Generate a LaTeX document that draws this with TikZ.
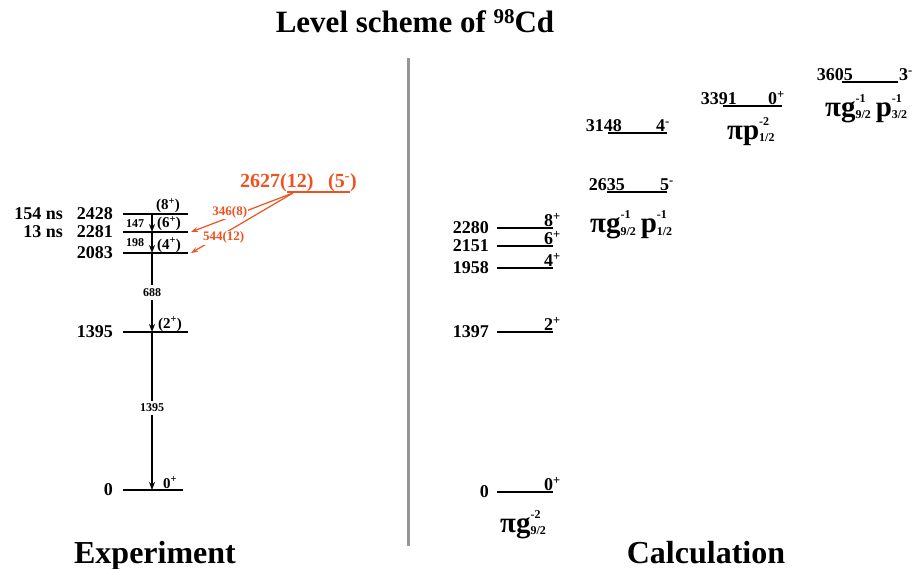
\documentclass[tikz,border=0pt]{standalone}
\usepackage{fontspec}
\setmainfont{Liberation Serif}
\usetikzlibrary{arrows.meta}
\definecolor{decayorange}{RGB}{238,82,32}
\definecolor{divgray}{RGB}{150,150,150}
\newcommand{\fs}[1]{\fontsize{#1}{#1}\selectfont\bfseries}
\newcommand{\orb}[3]{#1{\fs{12}\rlap{\raisebox{14pt}{#3}}\raisebox{-2pt}{#2}}}
\begin{document}
\begin{tikzpicture}[x=1pt, y=-1pt, >={Stealth[length=8pt, width=6pt]},
  lvl/.style={line width=1.4pt},
  gam/.style={->, line width=1.5pt},
  en/.style={font=\fs{18}, inner sep=1pt},
  uen/.style={font=\fs{18}, inner sep=0pt},
  espin/.style={font=\fs{15}, inner sep=0pt},
  cspin/.style={font=\fs{18}, inner sep=0pt},
  glab/.style={font=\fs{12}, inner sep=0pt},
  olab/.style={font=\fs{13}, text=decayorange, fill=white, inner sep=1pt},
  cfg/.style={font=\fs{29}, inner sep=0pt}]
  \useasboundingbox (0,0) rectangle (917,569);
  % titles
  \node[font=\fs{31}, anchor=base] (title) at (415,33) {Level scheme of \raisebox{9pt}{\fs{21}98}Cd};
  \node[font=\fs{32}, anchor=base] (exptitle) at (155,563) {Experiment};
  \node[font=\fs{32}, anchor=base] (caltitle) at (706,563) {Calculation};
  \draw[divgray, line width=3pt] (408,58) -- (408,546);
  % experiment levels
  \foreach \n/\y/\e/\r in {e8/214/2428/188, e6/232/2281/188, e4/253/2083/188, e2/332/1395/188, e0/490/0/183} {
    \draw[lvl] (123,\y) -- (\r,\y);
    \node[en, anchor=east] (l\n) at (114,\y) {\e};
    \coordinate (\n) at (152,\y);
    \coordinate (\n r) at (191,\y);
  }
  \node[en, anchor=east] (t8) at (64,214) {154 ns};
  \node[en, anchor=east] (t6) at (64,232) {13 ns};
  \node[espin, anchor=base] (s8) at (168,210) {(8\textsuperscript{+})};
  \node[espin, anchor=base] (s6) at (169,228) {(6\textsuperscript{+})};
  \node[espin, anchor=base] (s4) at (169,249) {(4\textsuperscript{+})};
  \node[espin, anchor=base] (s2) at (170,328) {(2\textsuperscript{+})};
  \node[espin, anchor=base] (s0) at (170,488) {0\textsuperscript{+}};
  % gamma cascade
  \draw[gam] (e8) -- (e6);
  \draw[gam] (e6) -- (e4);
  \draw[gam] (e4) -- node[glab, fill=white, inner sep=3pt] (g688) {688} (e2);
  \draw[gam] (e2) -- node[glab, fill=white, inner sep=3pt, pos=0.48] (g1395) {1395} (e0);
  \node[glab, anchor=base] (g147) at (135,227) {147};
  \node[glab, anchor=base] (g198) at (135,247) {198};
  % new level
  \draw[lvl, decayorange] (287,192) -- (350,192);
  \node[font=\fs{20}, text=decayorange, anchor=base west, inner sep=0pt] (o5e) at (240,188) {2627(12)};
  \node[font=\fs{20}, text=decayorange, anchor=base west, inner sep=0pt] (o5s) at (328,188) {(5\textsuperscript{-})};
  \coordinate (o5) at (293,193);
  \draw[->, >={Stealth[length=7pt, width=5pt]}, decayorange, line width=1.2pt] (o5) -- node[olab, pos=0.62, yshift=5pt] (g346) {346(8)} (e6r);
  \draw[->, >={Stealth[length=7pt, width=5pt]}, decayorange, line width=1.2pt] (o5) -- node[olab, pos=0.68, yshift=-4pt] (g544) {544(12)} (e4r);
  % calculation
  \foreach \n/\y/\e/\j in {c0/492/0/0, c2/332/1397/2, c4/268/1958/4, c6/246/2151/6, c8/228/2280/8} {
    \draw[lvl] (497,\y) -- (553,\y);
    \node[en, anchor=east] (l\n) at (490,\y) {\e};
    \node[cspin, anchor=base east] (s\n) at (561,\y-1.5) {\j\textsuperscript{+}};
  }
  \foreach \n/\x/\w/\y/\e/\ex/\j/\jx in {c5/607/60/192/2635/625/5\textsuperscript{-}/674,
      c4m/608/59/133/3148/622/4\textsuperscript{-}/670,
      c0b/723/59/106/3391/737/0\textsuperscript{+}/785,
      c3/842/56/82/3605/853/3\textsuperscript{-}/913} {
    \draw[lvl] (\x,\y) -- (\x+\w,\y);
    \node[uen, anchor=base east] (l\n) at (\ex,\y-1.5) {\e};
    \node[uen, anchor=base east] (s\n) at (\jx,\y-1.5) {\j};
  }
  \node[cfg, anchor=base west] (k0) at (500,532) {π\orb{g}{9/2}{-2}};
  \node[cfg, anchor=base west] (k5) at (590,233) {π\orb{g}{9/2}{-1}\,\orb{p}{1/2}{-1}};
  \node[cfg, anchor=base west] (k0b) at (727,140) {π\orb{p}{1/2}{-2}};
  \node[cfg, anchor=base west] (k3) at (825,117) {π\orb{g}{9/2}{-1}\,\orb{p}{3/2}{-1}};
\end{tikzpicture}
\end{document}
